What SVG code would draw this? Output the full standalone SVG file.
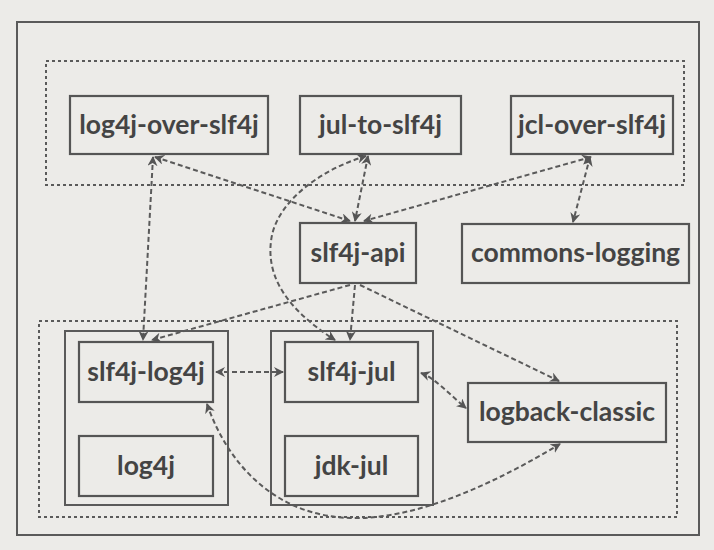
<svg xmlns="http://www.w3.org/2000/svg" width="714" height="550" viewBox="0 0 714 550">
<style>
.bg{fill:#ecebe8}
.frame{fill:none;stroke:#5a5a5a;stroke-width:2}
.grp{fill:none;stroke:#5a5a5a;stroke-width:2;stroke-dasharray:3 3}
.box{fill:none;stroke:#555;stroke-width:2.2}
.lbl{font-family:Lato,"Open Sans","Liberation Sans",sans-serif;font-weight:700;font-size:26.5px;fill:#444;text-anchor:middle}
.c{fill:none;stroke:#5a5a5a;stroke-width:2;stroke-dasharray:5 3}
</style>
<defs>
<marker id="ah" viewBox="0 0 10 10" refX="9" refY="5" markerWidth="5" markerHeight="5" orient="auto-start-reverse" markerUnits="strokeWidth">
<path d="M0,0 L10,5 L0,10 L3,5 Z" fill="#555"/>
</marker>
</defs>
<rect class="bg" x="0" y="0" width="714" height="550"/>
<rect class="frame" x="17" y="22" width="682" height="513"/>
<rect class="grp" x="46" y="61" width="638" height="124"/>
<rect class="grp" x="39" y="321" width="638" height="196"/>
<rect class="frame" x="65" y="331" width="163" height="174"/>
<rect class="frame" x="271" y="331" width="162" height="174"/>

<g id="connectors">
<path class="c" d="M155,157 L350,221" marker-start="url(#ah)" marker-end="url(#ah)"/>
<path class="c" d="M153,157 L143,340" marker-start="url(#ah)" marker-end="url(#ah)"/>
<path class="c" d="M368,156 L355,221" marker-start="url(#ah)" marker-end="url(#ah)"/>
<path class="c" d="M366,156 C320,170 280,200 272,235 C265,270 280,305 335,340" marker-start="url(#ah)" marker-end="url(#ah)"/>
<path class="c" d="M591,157 L364,221" marker-start="url(#ah)" marker-end="url(#ah)"/>
<path class="c" d="M590,157 L573,222" marker-start="url(#ah)" marker-end="url(#ah)"/>
<path class="c" d="M350,285 L152,340" marker-end="url(#ah)"/>
<path class="c" d="M355,285 L350,340" marker-end="url(#ah)"/>
<path class="c" d="M360,285 L559,381" marker-end="url(#ah)"/>
<path class="c" d="M216,372 L283,372" marker-start="url(#ah)" marker-end="url(#ah)"/>
<path class="c" d="M421,373 C435,378 450,395 466,408" marker-start="url(#ah)" marker-end="url(#ah)"/>
<path class="c" d="M207,404 C230,470 280,516 350,518 C420,520 500,480 560,444" marker-start="url(#ah)" marker-end="url(#ah)"/>
</g>

<g id="log4j-over-slf4j"><rect class="box" x="70" y="96" width="198" height="58"/><text class="lbl" x="169" y="134">log4j-over-slf4j</text></g>
<g id="jul-to-slf4j"><rect class="box" x="300" y="96" width="161" height="58"/><text class="lbl" x="380.5" y="134">jul-to-slf4j</text></g>
<g id="jcl-over-slf4j"><rect class="box" x="511" y="96" width="162" height="58"/><text class="lbl" x="592" y="134">jcl-over-slf4j</text></g>
<g id="slf4j-api"><rect class="box" x="300" y="223" width="116" height="60"/><text class="lbl" x="358" y="262">slf4j-api</text></g>
<g id="commons-logging"><rect class="box" x="462" y="224" width="227" height="59"/><text class="lbl" x="575.5" y="262">commons-logging</text></g>
<g id="slf4j-log4j"><rect class="box" x="79" y="342" width="134" height="60"/><text class="lbl" x="146" y="381">slf4j-log4j</text></g>
<g id="log4j"><rect class="box" x="79" y="436" width="134" height="60"/><text class="lbl" x="146" y="475">log4j</text></g>
<g id="slf4j-jul"><rect class="box" x="285" y="342" width="133" height="60"/><text class="lbl" x="351.5" y="381">slf4j-jul</text></g>
<g id="jdk-jul"><rect class="box" x="285" y="436" width="133" height="60"/><text class="lbl" x="351.5" y="475">jdk-jul</text></g>
<g id="logback-classic"><rect class="box" x="468" y="383" width="198" height="59"/><text class="lbl" x="567" y="421">logback-classic</text></g>
</svg>
